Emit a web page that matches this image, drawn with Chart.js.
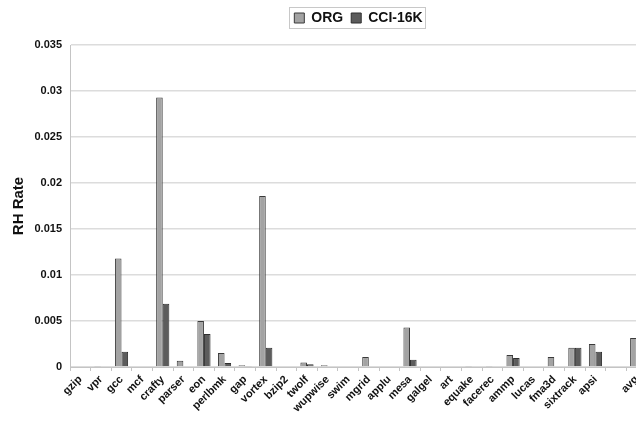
<!DOCTYPE html>
<html>
<head>
<meta charset="utf-8">
<script src="https://cdn.jsdelivr.net/npm/chart.js@4/dist/chart.umd.min.js"></script>
<style>
  html, body { margin: 0; padding: 0; background: #fff; overflow: hidden; }
  #wrap { width: 650px; height: 425px; position: relative; }
</style>
</head>
<body>
<div id="wrap"><canvas id="c"></canvas></div>
<script>
// SPEC CPU2000 benchmarks (blank slot separates the average)
const benchmarks = ['gzip','vpr','gcc','mcf','crafty','parser','eon','perlbmk','gap','vortex',
  'bzip2','twolf','wupwise','swim','mgrid','applu','mesa','galgel','art','equake',
  'facerec','ammp','lucas','fma3d','sixtrack','apsi','','avg'];

// RH rate, baseline configuration
const orgRate = [0, 0.0001, 0.0118, 0, 0.0293, 0.00068, 0.0050, 0.00152, 0.0002, 0.0186,
  0, 0.0005, 0.0002, 0, 0.0011, 0, 0.0043, 0, 0, 0.0001,
  0.0001, 0.0013, 0, 0.0011, 0.0021, 0.0025, null, 0.00315];

// RH rate, CCI with 16K entries
const cciRate = [0, 0, 0.00166, 0, 0.00687, 0, 0.00358, 0.00043, 0.0001, 0.0021,
  0, 0.0003, 0, 0, 0, 0, 0.0008, 0, 0, 0,
  0, 0.00098, 0, 0, 0.0021, 0.00166, null, 0.0008];

const yTicks = [0, 0.005, 0.01, 0.015, 0.02, 0.025, 0.03, 0.035];

const FONT = "'Liberation Sans', Arial, sans-serif";

// centre the legend over the plot area and outline it
const legendFrame = {
  id: 'legendFrame',
  beforeDraw(chart) {
    const lg = chart.legend, ca = chart.chartArea;
    if (!lg || !ca) return;
    const delta = ((ca.left + ca.right) - (lg.left + lg.right)) / 2;
    lg.left += delta;
    lg.right += delta;
    (lg.legendHitBoxes || []).forEach(b => { b.left += delta; });
  },
  afterDraw(chart) {
    const boxes = chart.legend && chart.legend.legendHitBoxes;
    if (!boxes || !boxes.length) return;
    let x0 = Infinity, x1 = -Infinity, y0 = Infinity, y1 = -Infinity;
    boxes.forEach(b => {
      x0 = Math.min(x0, b.left); x1 = Math.max(x1, b.left + b.width);
      y0 = Math.min(y0, b.top); y1 = Math.max(y1, b.top + b.height);
    });
    const ctx = chart.ctx;
    ctx.save();
    ctx.strokeStyle = '#c8c8c8';
    ctx.lineWidth = 1;
    ctx.strokeRect(Math.round(x0 - 5) + 0.5, Math.round(y0 - 4) + 0.5,
                   Math.round(x1 - x0 + 8), Math.round(y1 - y0 + 7));
    ctx.restore();
  }
};

new Chart(document.getElementById('c'), {
  type: 'bar',
  data: {
    labels: benchmarks,
    datasets: [
      { label: 'ORG', data: orgRate, backgroundColor: '#a3a3a3', borderColor: '#3a3a3a',
        borderWidth: 1, categoryPercentage: 0.64, barPercentage: 1 },
      { label: 'CCI-16K', data: cciRate, backgroundColor: '#5c5c5c', borderColor: '#2e2e2e',
        borderWidth: 1, categoryPercentage: 0.64, barPercentage: 1 }
    ]
  },
  options: {
    responsive: true,
    maintainAspectRatio: false,
    animation: false,
    layout: { padding: { left: 0, right: 3, top: 3, bottom: 0 } },
    plugins: {
      tooltip: { enabled: false },
      legend: {
        position: 'top',
        align: 'center',
        labels: {
          boxWidth: 10, boxHeight: 10, padding: 8,
          color: '#111',
          font: { family: FONT, size: 14, weight: 'bold' }
        }
      },
      // empty spacer between the legend and the plot
      subtitle: {
        display: true, text: '', weight: 500, position: 'top',
        padding: 0, font: { size: 10, lineHeight: 1 }
      }
    },
    scales: {
      x: {
        grid: { display: true, offset: true, drawOnChartArea: false, color: '#c4c4c4', tickLength: 4 },
        border: { color: '#c4c4c4' },
        ticks: {
          autoSkip: false, maxRotation: 45, minRotation: 45, padding: 2,
          color: '#111', font: { family: FONT, size: 11, weight: 'bold' }
        },
        afterFit(s) { s.height = 58; }
      },
      y: {
        min: 0, max: 0.035,
        afterBuildTicks(s) { s.ticks = yTicks.map(v => ({ value: v })); },
        grid: { color: '#dcdcdc', lineWidth: 1.5, drawTicks: false },
        border: { color: '#c4c4c4' },
        ticks: {
          padding: 8, color: '#111',
          font: { family: FONT, size: 11, weight: 'bold' },
          callback: v => String(+Number(v).toFixed(3))
        },
        title: {
          display: true, text: 'RH Rate', color: '#111', padding: { top: 10, bottom: 0 },
          font: { family: FONT, size: 15, weight: 'bold' }
        },
        afterFit(s) { s.width = 70; }
      }
    }
  },
  plugins: [legendFrame]
});
</script>
</body>
</html>
